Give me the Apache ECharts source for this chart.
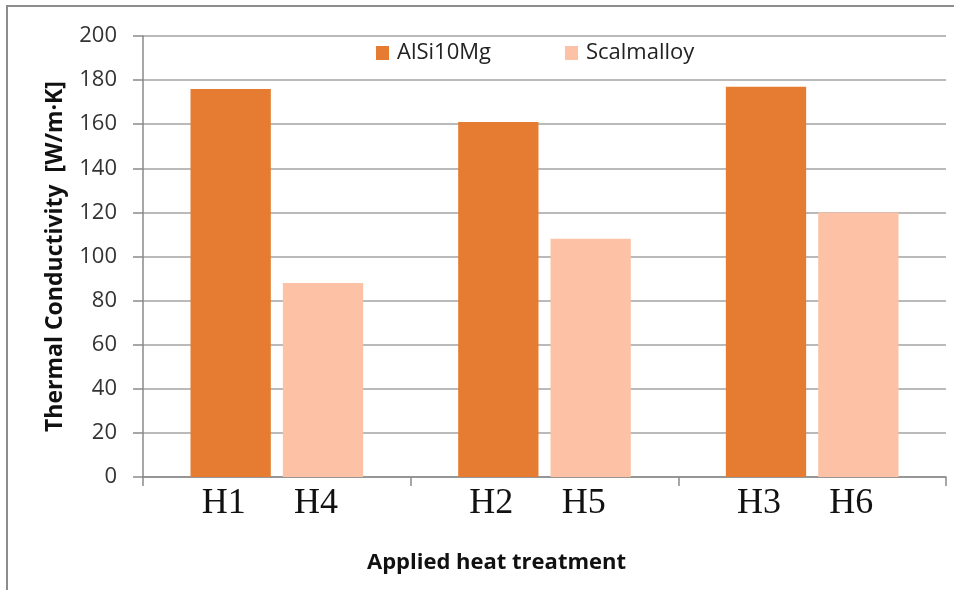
<!DOCTYPE html>
<html>
<head>
<meta charset="utf-8">
<script src="https://cdn.jsdelivr.net/npm/echarts@6/dist/echarts.min.js"></script>
<style>
  html, body { margin: 0; padding: 0; background: #fff; }
  #chart { width: 954px; height: 590px; }
</style>
</head>
<body>
<div id="chart"></div>
<script>
// groups on the x axis, each holds one AlSi10Mg and one Scalmalloy bar
const groups = ['G1', 'G2', 'G3'];
const alsiNames = ['H1', 'H2', 'H3'];
const scalNames = ['H4', 'H5', 'H6'];
// thermal conductivity in W/m·K
const alsiValues = [176, 161, 177];
const scalValues = [88, 108, 120];

const labelFont = 'Open Sans';

// bar label under each bar shows its heat treatment name
function treatmentLabel(names) {
    return {
        show: true,
        position: 'bottom',
        distance: 9,
        offset: [-7, 0],
        formatter: p => names[p.dataIndex],
        fontFamily: 'Liberation Serif',
        fontSize: 36,
        color: '#111'
    };
}

let chart = echarts.init(document.getElementById('chart'));
chart.setOption({
    animation: false,
    grid: { left: 143, right: 8, top: 36, bottom: 113 },
    graphic: [{
        type: 'rect',
        shape: { x: 7, y: 6, width: 960, height: 600 },
        style: { fill: 'none', stroke: '#8c8c8c', lineWidth: 2 }
    }],
    legend: {
        top: 37,
        left: 371,
        icon: 'rect',
        itemWidth: 13,
        itemHeight: 14,
        itemGap: 74,
        textStyle: { fontFamily: labelFont, fontSize: 22, color: '#222', padding: [0, 0, 0, 3] },
        data: ['AlSi10Mg', 'Scalmalloy']
    },
    xAxis: {
        type: 'category',
        data: groups,
        name: 'Applied heat treatment',
        nameLocation: 'middle',
        nameGap: 75,
        nameTextStyle: {
            fontFamily: labelFont, fontSize: 22, fontWeight: 'bold', color: '#111',
            padding: [0, 96, 0, 0]
        },
        axisLine: { lineStyle: { color: '#8a8a8a', width: 1.5 } },
        axisTick: { show: true, length: 9, lineStyle: { color: '#8a8a8a', width: 1.5 } },
        axisLabel: { show: false }
    },
    yAxis: {
        type: 'value',
        min: 0,
        max: 200,
        interval: 20,
        name: 'Thermal Conductivity  [W/m·K]',
        nameLocation: 'middle',
        nameGap: 76,
        nameTextStyle: { fontFamily: labelFont, fontSize: 23, fontWeight: 'bold', color: '#111' },
        axisLine: { show: true, lineStyle: { color: '#8a8a8a', width: 1.5 } },
        axisTick: { show: true, length: 10, lineStyle: { color: '#8a8a8a', width: 1.5 } },
        axisLabel: { margin: 26, fontFamily: labelFont, fontSize: 22, color: '#333' },
        splitLine: { lineStyle: { color: '#a3a3a3', width: 1.5 } }
    },
    series: [
        {
            name: 'AlSi10Mg',
            type: 'bar',
            data: alsiValues,
            barWidth: '30%',
            barGap: '15%',
            itemStyle: { color: '#E57C31' },
            label: treatmentLabel(alsiNames)
        },
        {
            name: 'Scalmalloy',
            type: 'bar',
            data: scalValues,
            barWidth: '30%',
            itemStyle: { color: '#FDC2A5' },
            label: treatmentLabel(scalNames)
        }
    ]
});
</script>
</body>
</html>
